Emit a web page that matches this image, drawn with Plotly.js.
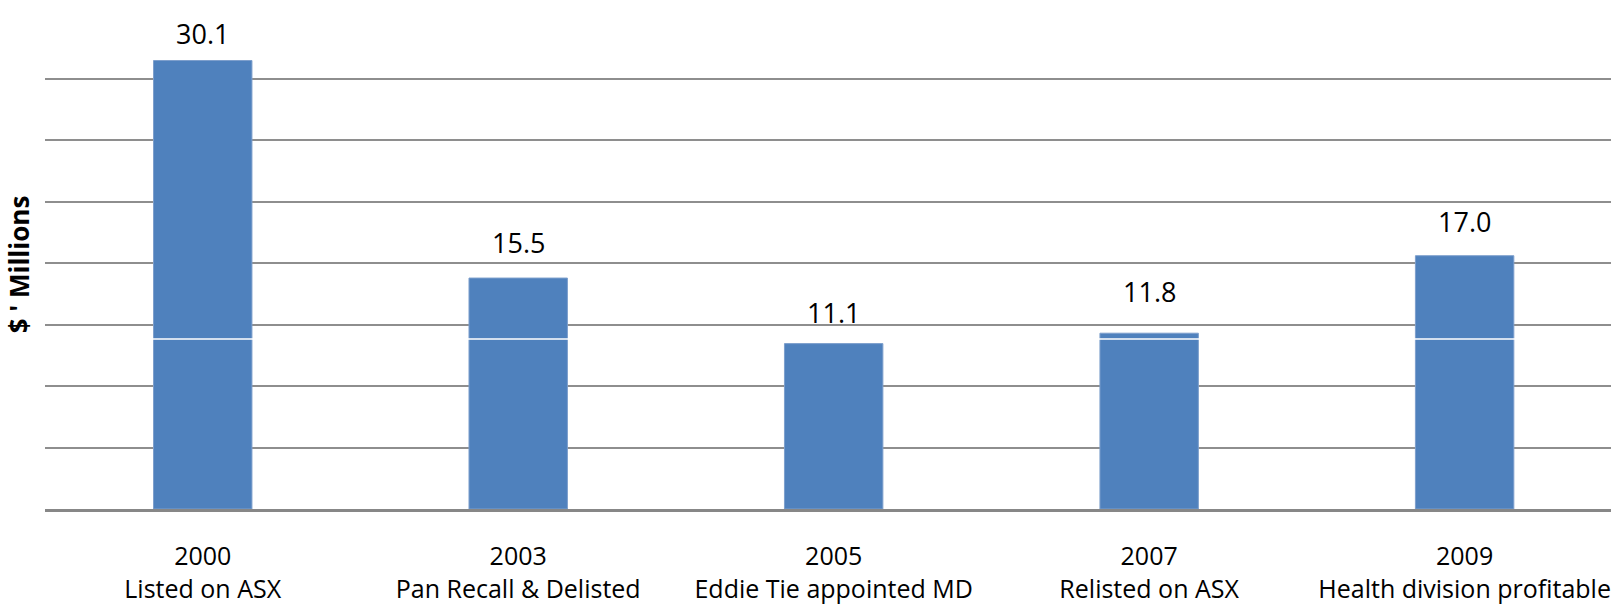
<!DOCTYPE html>
<html>
<head>
<meta charset="utf-8">
<script src="https://cdn.plot.ly/plotly-3.0.1.min.js"></script>
<style>
  html, body { margin: 0; padding: 0; background: #ffffff; }
  #chart { width: 1611px; height: 606px; }
</style>
</head>
<body>
<div id="chart"></div>
<script>
// Milestone years and the events attached to them
const years = ["2000", "2003", "2005", "2007", "2009"];
const events = ["Listed on ASX", "Pan Recall & Delisted", "Eddie Tie appointed MD", "Relisted on ASX", "Health division profitable"];
// Value for each milestone, $ millions
const values = [30.1, 15.5, 11.1, 11.8, 17.0];

// Vertical lift (px) of each value label above its bar
const labelLift = [27, 36, 31, 42, 34];

const categories = years.map((y, i) => y + "<br>" + events[i]);

const FONT = "Open Sans, Noto Sans, sans-serif";
const BAR_BLUE = "#4f81bd";

const trace = {
  type: "bar",
  x: categories,
  y: values,
  width: 0.312,
  marker: { color: BAR_BLUE, line: { color: "#7d9fcc", width: 1 } },
  hoverinfo: "x+y",
  cliponaxis: false
};

const annotations = values.map((v, i) => ({
  x: categories[i],
  y: v,
  xref: "x",
  yref: "y",
  text: v.toFixed(1),
  showarrow: false,
  yanchor: "middle",
  yshift: labelLift[i],
  font: { family: FONT, size: 27, color: "#000000" }
}));

const layout = {
  width: 1611,
  height: 606,
  margin: { l: 45, r: 0, t: 20, b: 97, pad: 0 },
  paper_bgcolor: "#ffffff",
  plot_bgcolor: "#ffffff",
  showlegend: false,
  bargap: 0.688,
  xaxis: {
    type: "category",
    range: [-0.5, 4.464],
    showgrid: false,
    zeroline: false,
    showline: true,
    linecolor: "#878787",
    linewidth: 3,
    ticks: "",
    ticklabelstandoff: 23,
    tickfont: { family: FONT, size: 25, color: "#000000" },
    automargin: false,
    fixedrange: true
  },
  yaxis: {
    range: [0, 32.82],
    tick0: 0,
    dtick: 4.1275,
    showticklabels: false,
    ticks: "",
    showgrid: true,
    gridcolor: "#8e8e8e",
    gridwidth: 2,
    zeroline: false,
    showline: false,
    automargin: false,
    fixedrange: true,
    title: {
      text: "$ ' Millions",
      standoff: 6,
      font: { family: FONT, size: 26, color: "#000000", weight: "bold" }
    }
  },
  annotations: annotations,
  shapes: [{
    type: "line",
    xref: "paper",
    yref: "paper",
    x0: 0, x1: 1,
    y0: 0.3476, y1: 0.3476,
    line: { color: "#ffffff", width: 1.5 },
    layer: "above"
  }]
};

Plotly.newPlot("chart", [trace], layout, { displayModeBar: false, staticPlot: true });
</script>
</body>
</html>
